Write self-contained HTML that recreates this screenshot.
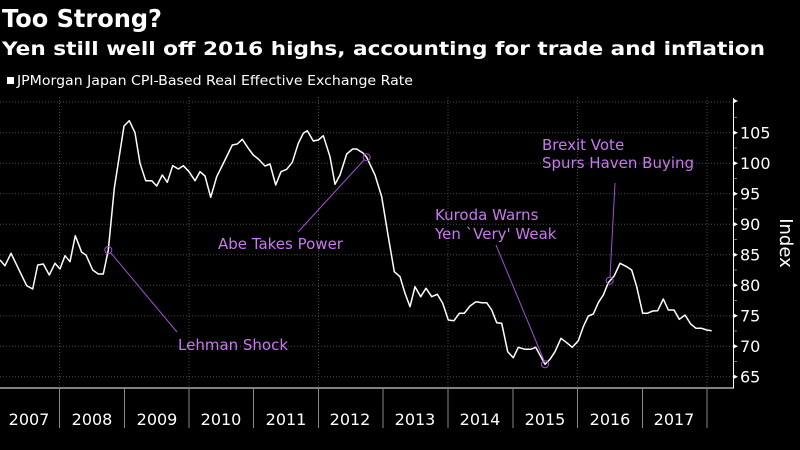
<!DOCTYPE html>
<html><head><meta charset="utf-8"><style>
html,body{margin:0;padding:0;background:#000;width:800px;height:450px;overflow:hidden}
svg{display:block}
text{font-family:"DejaVu Sans","Liberation Sans",sans-serif}
</style></head><body>
<svg width="800" height="450" viewBox="0 0 800 450" xmlns="http://www.w3.org/2000/svg">
<text x="2" y="27" fill="#fff" font-size="25" font-weight="bold" textLength="160" lengthAdjust="spacingAndGlyphs">Too Strong?</text>
<text x="2" y="55" fill="#fff" font-size="19" font-weight="bold" textLength="763" lengthAdjust="spacingAndGlyphs">Yen still well off 2016 highs, accounting for trade and inflation</text>
<rect x="7" y="77" width="7" height="7" fill="#fff"/>
<text x="17" y="85" fill="#fff" font-size="13" textLength="396" lengthAdjust="spacingAndGlyphs">JPMorgan Japan CPI-Based Real Effective Exchange Rate</text>
<g stroke="#4a4a4a" stroke-width="1" stroke-dasharray="1,2">
<line x1="0" y1="102" x2="733" y2="102"/>
<line x1="0" y1="132.7" x2="733" y2="132.7"/>
<line x1="0" y1="163.2" x2="733" y2="163.2"/>
<line x1="0" y1="193.7" x2="733" y2="193.7"/>
<line x1="0" y1="224.2" x2="733" y2="224.2"/>
<line x1="0" y1="254.7" x2="733" y2="254.7"/>
<line x1="0" y1="285.2" x2="733" y2="285.2"/>
<line x1="0" y1="315.7" x2="733" y2="315.7"/>
<line x1="0" y1="346.2" x2="733" y2="346.2"/>
<line x1="0" y1="376.7" x2="733" y2="376.7"/>
<line x1="59.5" y1="97" x2="59.5" y2="388"/>
<line x1="189" y1="97" x2="189" y2="388"/>
<line x1="318.5" y1="97" x2="318.5" y2="388"/>
<line x1="448" y1="97" x2="448" y2="388"/>
<line x1="577.5" y1="97" x2="577.5" y2="388"/>
<line x1="707" y1="97" x2="707" y2="388"/>
</g>
<g stroke="#fff" stroke-width="1" fill="none">
<polyline points="0,388 733.5,388 733.5,98"/>
</g>
<g stroke="#777" stroke-width="1">
<line x1="734" y1="117.4" x2="737" y2="117.4"/><line x1="734" y1="148" x2="737" y2="148"/><line x1="734" y1="178.5" x2="737" y2="178.5"/><line x1="734" y1="209" x2="737" y2="209"/><line x1="734" y1="239.5" x2="737" y2="239.5"/><line x1="734" y1="270" x2="737" y2="270"/><line x1="734" y1="300.5" x2="737" y2="300.5"/><line x1="734" y1="331" x2="737" y2="331"/><line x1="734" y1="361.5" x2="737" y2="361.5"/>
</g>
<g stroke="#888" stroke-width="1">
<line x1="59.5" y1="388" x2="59.5" y2="428"/><line x1="124.5" y1="388" x2="124.5" y2="428"/><line x1="189" y1="388" x2="189" y2="428"/><line x1="253.5" y1="388" x2="253.5" y2="428"/><line x1="318.5" y1="388" x2="318.5" y2="428"/><line x1="383" y1="388" x2="383" y2="428"/><line x1="448" y1="388" x2="448" y2="428"/><line x1="513" y1="388" x2="513" y2="428"/><line x1="577.5" y1="388" x2="577.5" y2="428"/><line x1="642.5" y1="388" x2="642.5" y2="428"/><line x1="707" y1="388" x2="707" y2="428"/>
</g>
<g fill="#fff" font-size="16" text-anchor="middle">
<text x="29" y="425">2007</text><text x="92" y="425">2008</text><text x="157" y="425">2009</text><text x="221" y="425">2010</text><text x="286" y="425">2011</text><text x="350" y="425">2012</text><text x="415" y="425">2013</text><text x="480" y="425">2014</text><text x="545" y="425">2015</text><text x="610" y="425">2016</text><text x="674" y="425">2017</text>
</g>
<g fill="#fff">
<path d="M734,99 l4,2 l-4,2z M734,130.7 l4,2 l-4,2z M734,161.2 l4,2 l-4,2z M734,191.7 l4,2 l-4,2z M734,222.2 l4,2 l-4,2z M734,252.7 l4,2 l-4,2z M734,283.2 l4,2 l-4,2z M734,313.7 l4,2 l-4,2z M734,344.2 l4,2 l-4,2z M734,374.7 l4,2 l-4,2z"/>
</g>
<g fill="#fff" font-size="16">
<text x="740" y="138.5">105</text><text x="740" y="169">100</text><text x="740" y="199.5">95</text><text x="740" y="230">90</text><text x="740" y="260.5">85</text><text x="740" y="291">80</text><text x="740" y="321.5">75</text><text x="740" y="352">70</text><text x="740" y="382.5">65</text>
</g>
<text transform="translate(780,243) rotate(90)" fill="#fff" font-size="18" text-anchor="middle">Index</text>
<polyline fill="none" stroke="#fff" stroke-width="1.5" stroke-linejoin="round" points="0,260 5,265.7 11,253.3 26.7,285.7 32.7,289 37.7,265 43.3,264 49.3,275 55,263.3 60,269 65,255.7 70,261.7 75.3,235.7 81.7,252.3 86,255 92.7,270 98.3,274 103.3,274 108.3,250 114.3,188.3 124,126 129.3,120.7 135,132.7 140,163.3 145.7,180.7 151.7,180.7 156.7,186 162.3,175 167.3,182.3 172.7,165.7 178.3,169 183.3,165.7 189,171.7 195,180.7 200,171.7 205,176 210.7,197.3 216.7,176.7 225,160 232.3,145 237.3,144 242.3,139.3 248.3,148.3 253.3,155 258.3,159 265,166 270,164 275.7,185 281,171.7 286.7,169.3 292.3,162.3 298.3,143.3 303.3,133.3 307.3,130.7 313.3,141 318.3,140 323.3,135.7 330,156.7 335,184.3 340,175 346.7,154 352.7,149 356.7,149 363.3,153.3 366.7,157.3 375,175 381.7,196.7 388.3,236.7 394.3,271.7 400,276.7 405,293.3 410,306.7 415,286.7 420.7,296.7 426,288.3 431.7,296.7 437.3,294.3 442.7,303.3 448.3,320 454,320.7 459.3,313.3 464.3,313.3 470,306 476,301.7 481.7,302.7 486.7,302.7 491.7,310 496.7,322.7 501.7,323.3 507.7,351.7 513.3,357.7 518.3,347.3 525,349.3 530.7,349.3 535.7,347.3 541.7,358.3 545,364.3 550,359.3 555,351.7 561,338.3 566.7,342.7 572.3,347.3 578.3,340.7 583.3,326.7 588.3,316 593.3,314 598.3,302.7 603.3,295 608.3,282.7 614.3,275.7 620,263.3 626.7,266.7 631.7,270 636.7,286.7 642.7,313.3 647.3,313.3 652.7,311 657.7,310.7 663.3,299 668.3,310 674,310 679.3,319.3 685,315 690.7,324 696,328.3 701.7,328.3 706.7,330 711.7,330.7"/>
<g stroke="#a050d0" stroke-width="1" fill="none">
<circle cx="108.3" cy="250" r="3.5"/><line x1="110.5" y1="252.5" x2="177" y2="332"/>
<circle cx="366.7" cy="157.3" r="3.5"/><line x1="364" y1="160" x2="298" y2="232"/>
<circle cx="545" cy="364.3" r="3.5"/><line x1="544" y1="360.5" x2="496" y2="245"/>
<circle cx="609.7" cy="280.7" r="3.5"/><line x1="610" y1="277" x2="615" y2="183"/>
</g>
<g fill="#c878f0" font-size="15">
<text x="178" y="350">Lehman Shock</text>
<text x="218" y="249">Abe Takes Power</text>
<text x="435" y="220">Kuroda Warns</text>
<text x="435" y="239">Yen `Very' Weak</text>
<text x="542" y="150">Brexit Vote</text>
<text x="542" y="168">Spurs Haven Buying</text>
</g>
</svg>
</body></html>
